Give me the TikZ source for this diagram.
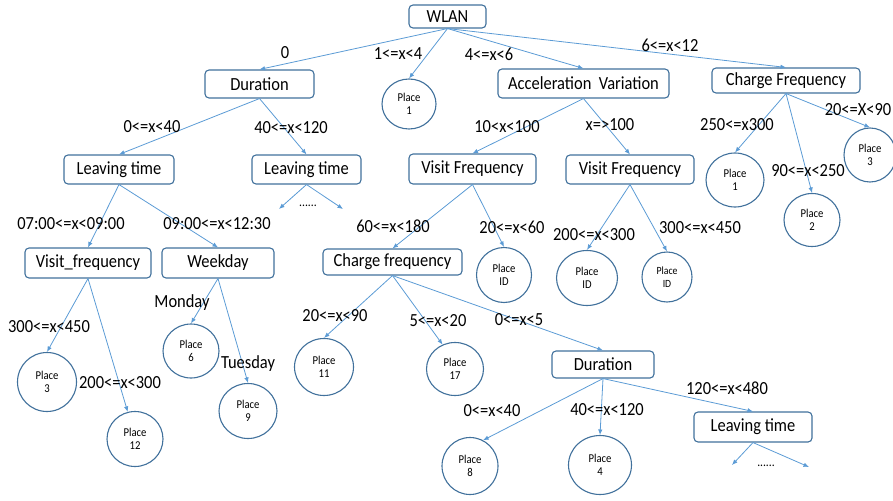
\documentclass[tikz,border=0pt]{standalone}
\usepackage{fontspec}
\setmainfont{Carlito}[FakeStretch=0.89]
\usetikzlibrary{arrows.meta,shapes.geometric}
\definecolor{boxline}{HTML}{41719C}
\definecolor{arrowline}{HTML}{5B9BD5}

\begin{document}
\begin{tikzpicture}[x=1pt,y=-1pt,
  attr/.style={draw=boxline, line width=1.1pt, rounded corners=4pt, fill=white,
    inner sep=0pt, font=\fontsize{18.5}{21}\selectfont},
  leaf/.style={ellipse, draw=boxline, line width=1.1pt, inner sep=0pt, fill=white,
    align=center, font=\fontsize{12}{13.5}\selectfont},
  cond/.style={inner sep=0pt, font=\fontsize{18.5}{21}\selectfont},
  more/.style={inner sep=0pt, font=\fontsize{13}{15}\selectfont},
  branch/.style={draw=arrowline, line width=0.8pt, -{Latex[length=5.5pt,width=4.5pt]}}
]
\useasboundingbox (0,0) rectangle (893,500);

% attribute boxes
\node[attr, minimum width=77pt,  minimum height=23pt] (wlan) at (447.5,16.5) {WLAN};
\node[attr, minimum width=109pt, minimum height=28pt] (dur1) at (259.5,84) {Duration};
\node[attr, minimum width=171pt, minimum height=29pt] (acc)  at (583.5,83.5) {Acceleration\ \ Variation};
\node[attr, minimum width=148pt, minimum height=25pt] (chg1) at (786,80.5) {Charge Frequency};
\node[attr, minimum width=110pt, minimum height=29pt] (lt1)  at (119,169.5) {Leaving time};
\node[attr, minimum width=109pt, minimum height=29pt] (lt2)  at (306.5,169.5) {Leaving time};
\node[attr, minimum width=127pt, minimum height=30pt] (vf1)  at (472.5,169) {Visit Frequency};
\node[attr, minimum width=128pt, minimum height=29pt] (vf2)  at (630,169.5) {Visit Frequency};
\node[attr, minimum width=126pt, minimum height=30pt] (vfq)  at (88,263) {Visit\_frequency};
\node[attr, minimum width=112pt, minimum height=30pt] (wkd)  at (218,263) {Weekday};
\node[attr, minimum width=139pt, minimum height=26pt] (chg2) at (392.5,262) {Charge frequency};
\node[attr, minimum width=102pt, minimum height=27pt] (dur2) at (603,364.5) {Duration};
\node[attr, minimum width=118pt, minimum height=30pt] (lt3)  at (753,427) {Leaving time};

% leaves
\node[leaf, minimum width=54pt, minimum height=50pt] (pA) at (409,104) {Place\\1};
\node[leaf, minimum width=58pt, minimum height=54pt] (pB) at (735,180) {Place\\1};
\node[leaf, minimum width=52pt, minimum height=54pt] (pC) at (870,155) {Place\\3};
\node[leaf, minimum width=56pt, minimum height=53pt] (pD) at (812,220) {Place\\2};
\node[leaf, minimum width=55pt, minimum height=55pt] (pE) at (504,275) {Place\\ID};
\node[leaf, minimum width=61pt, minimum height=55pt] (pF) at (587,278) {Place\\ID};
\node[leaf, minimum width=50pt, minimum height=50pt, font=\fontsize{11}{12.5}\selectfont] (pG) at (667,277) {Place\\ID};
\node[leaf, minimum width=59pt, minimum height=59pt] (pH) at (47,382) {Place\\3};
\node[leaf, minimum width=56pt, minimum height=55pt] (pI) at (135,439) {Place\\12};
\node[leaf, minimum width=56pt, minimum height=54pt] (pJ) at (191,351) {Place\\6};
\node[leaf, minimum width=58pt, minimum height=55pt] (pK) at (248,411) {Place\\9};
\node[leaf, minimum width=59pt, minimum height=57pt] (pL) at (324,367) {Place\\11};
\node[leaf, minimum width=57pt, minimum height=53pt] (pM) at (455,369) {Place\\17};
\node[leaf, minimum width=56pt, minimum height=57pt] (pN) at (470,466) {Place\\8};
\node[leaf, minimum width=63pt, minimum height=59pt] (pO) at (600,465) {Place\\4};

% unexpanded subtrees
\node[more] (d1) at (308,206) {......};
\node[more] (d2) at (766,466) {......};
\coordinate (e1) at (279,209);
\coordinate (e2) at (343,209);
\coordinate (e3) at (732,465);
\coordinate (e4) at (809,467);

% branches
\draw[branch] (wlan.south) -- (dur1.north);
\draw[branch] (wlan.south) -- (pA.north);
\draw[branch] (wlan.south) -- (acc.north);
\draw[branch] (wlan.south) -- (chg1.north);
\draw[branch] (dur1.south) -- (lt1.north);
\draw[branch] (dur1.south) -- (lt2.north);
\draw[branch] (acc.south) -- (vf1.north);
\draw[branch] (acc.south) -- (vf2.north);
\draw[branch] (chg1.south) -- (pB.north);
\draw[branch] (chg1.south) -- (pD.north);
\draw[branch] (chg1.south) -- (pC.north);
\draw[branch] (lt1.south) -- (vfq.north);
\draw[branch] (lt1.south) -- (wkd.north);
\draw[branch] (lt2.south) -- (e1);
\draw[branch] (lt2.south) -- (e2);
\draw[branch] (vf1.south) -- (chg2.north);
\draw[branch] (vf1.south) -- (pE.north);
\draw[branch] (vf2.south) -- (pF.north);
\draw[branch] (vf2.south) -- (pG.north);
\draw[branch] (vfq.south) -- (pH.north);
\draw[branch] (vfq.south) -- (pI.105);
\draw[branch] (wkd.south) -- (pJ.north);
\draw[branch] (wkd.south) -- (pK.north);
\draw[branch] (chg2.south) -- (pL.north);
\draw[branch] (chg2.south) -- (pM.117);
\draw[branch] (chg2.south) -- (dur2.north);
\draw[branch] (dur2.south) -- (pN.63);
\draw[branch] (dur2.south) -- (pO.north);
\draw[branch] (dur2.south) -- (lt3.north);
\draw[branch] (lt3.south) -- (e3);
\draw[branch] (lt3.south) -- (e4);

% branch conditions
\node[cond] (c01) at (285,53) {0};
\node[cond] (c02) at (398,54) {1<=x<4};
\node[cond] (c03) at (489,54) {4<=x<6};
\node[cond] (c04) at (670,45) {6<=x<12};
\node[cond] (c05) at (152,127) {0<=x<40};
\node[cond] (c06) at (291,128) {40<=x<120};
\node[cond] (c07) at (507,127) {10<x<100};
\node[cond] (c08) at (610,125) {x=>100};
\node[cond] (c09) at (737,125) {250<=x300};
\node[cond] (c10) at (858,110) {20<=X<90};
\node[cond] (c11) at (808,171) {90<=x<250};
\node[cond] (c12) at (71,224) {07:00<=x<09:00};
\node[cond] (c13) at (217,224) {09:00<=x<12:30};
\node[cond] (c14) at (393,226) {60<=x<180};
\node[cond] (c15) at (512,227) {20<=x<60};
\node[cond] (c16) at (594,235) {200<=x<300};
\node[cond] (c17) at (700,228) {300<=x<450};
\node[cond] (c18) at (182,303) {Monday};
\node[cond] (c19) at (49,327) {300<=x<450};
\node[cond] (c20) at (120,383) {200<=x<300};
\node[cond] (c21) at (248,364) {Tuesday};
\node[cond] (c22) at (335,316) {20<=x<90};
\node[cond] (c23) at (438,321) {5<=x<20};
\node[cond] (c24) at (519,320) {0<=x<5};
\node[cond] (c25) at (492,411) {0<=x<40};
\node[cond] (c26) at (607,410) {40<=x<120};
\node[cond] (c27) at (727,388) {120<=x<480};
\end{tikzpicture}
\end{document}
